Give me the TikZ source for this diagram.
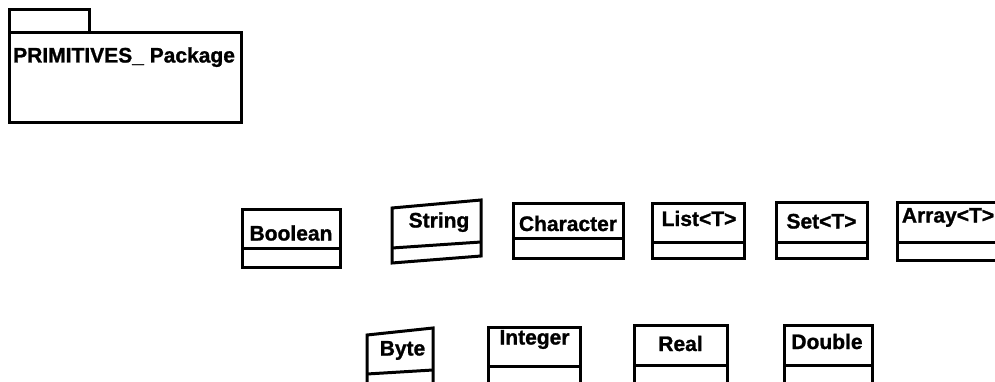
\documentclass[tikz,border=0pt]{standalone}
\usepackage{fontspec}
\setmainfont{Liberation Sans}
\newfontfamily\umlfont{Liberation Sans}[FakeBold=1.2]
\tikzset{
    box/.style={line width=3pt, line join=miter},
    lbl/.style={inner sep=0pt, text height=15pt, text depth=0pt, font=\umlfont\bfseries\fontsize{21}{21}\selectfont},
}
\begin{document}
\begin{tikzpicture}[x=1pt, y=-1pt]
    \clip (0,0) rectangle (995,382);
    % package frame
    \draw[box] (9,10) rectangle (89,33);
    \draw[box] (9,33) rectangle (241,123);
    \node[lbl, anchor=west] (pkg) at (13,55) {PRIMITIVES\_ Package};
    % upper row
    \draw[box] (242,209) rectangle (340,267);
    \draw[box] (242,248) -- (340,248);
    \node[lbl] (boolean) at (291,233) {Boolean};
    \draw[box] (392,208) -- (481,200) -- (481,256) -- (392,263) -- cycle;
    \draw[box] (392,248) -- (481,242);
    \node[lbl] (string) at (439,220) {String};
    \draw[box] (513,203) rectangle (623,258);
    \draw[box] (513,238) -- (623,238);
    \node[lbl] (character) at (568,223.5) {Character};
    \draw[box] (652,203) rectangle (744,258);
    \draw[box] (652,242) -- (744,242);
    \node[lbl] (list) at (699,218.5) {List<T>};
    \draw[box] (776,202) rectangle (867,258);
    \draw[box] (776,242) -- (867,242);
    \node[lbl] (set) at (821.5,221) {Set<T>};
    \draw[box] (897,202) rectangle (1002,260);
    \draw[box] (897,242) -- (1002,242);
    \node[lbl] (array) at (948,215) {Array<T>};
    % lower row
    \draw[box] (367,335) -- (433,328) -- (433,392) -- (367,396) -- cycle;
    \draw[box] (367,374) -- (433,370);
    \node[lbl] (byte) at (402.5,348) {Byte};
    \draw[box] (488,327) rectangle (580,395);
    \draw[box] (488,366) -- (580,366);
    \node[lbl] (integer) at (534.5,337) {Integer};
    \draw[box] (634,325) rectangle (727,395);
    \draw[box] (634,365) -- (727,365);
    \node[lbl] (real) at (680.5,343.5) {Real};
    \draw[box] (784,325) rectangle (872,395);
    \draw[box] (784,365) -- (872,365);
    \node[lbl] (double) at (827,341.5) {Double};
\end{tikzpicture}
\end{document}
